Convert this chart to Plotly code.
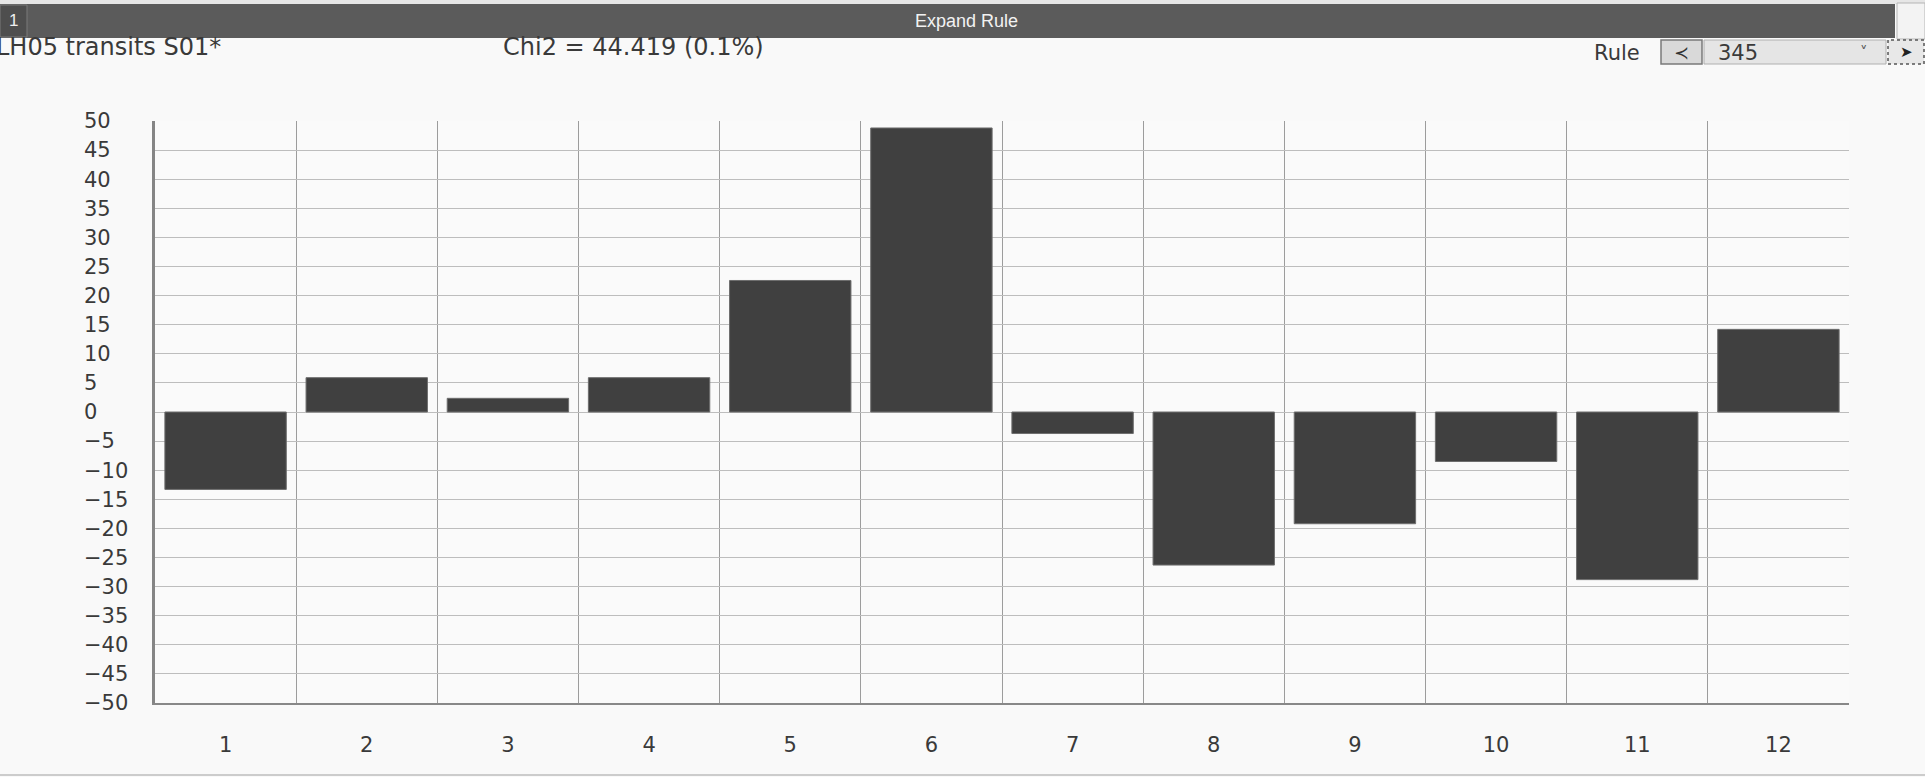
import plotly.graph_objects as go

# ---- data ----
categories = ["1", "2", "3", "4", "5", "6", "7", "8", "9", "10", "11", "12"]
positions = list(range(1, 13))
values = [-13.3, 5.9, 2.35, 5.9, 22.6, 48.8, -3.7, -26.3, -19.2, -8.5, -28.8, 14.2]
y_ticks = list(range(-50, 55, 5))
cat_bounds = [i + 0.5 for i in range(0, 13)]
header_tab = "1"
header_title = "Expand Rule"
left_label = "LH05 transits S01*"
chi_label = "Chi2 = 44.419 (0.1%)"
rule_label = "Rule"
rule_value = "345"

W, H = 1925, 777


def px(x):
    return x / W


def py(y):
    return 1 - y / H


CHART_FONT = "DejaVu Sans, Verdana, sans-serif"
TXT = "#3a3a3a"

fig = go.Figure()
fig.add_trace(go.Bar(
    x=positions, y=values, width=0.86,
    marker=dict(color="#404040", line=dict(color="#6e6e6e", width=1)),
    hoverinfo="x+y", showlegend=False,
))
# invisible helper trace so the left-aligned label axis is drawn
fig.add_trace(go.Scatter(
    x=positions, y=values, yaxis="y2", mode="markers",
    marker=dict(opacity=0), hoverinfo="skip", showlegend=False,
))

fig.update_layout(
    width=W, height=H,
    margin=dict(l=0, r=0, t=0, b=0, autoexpand=False),
    paper_bgcolor="#f9f9f9",
    plot_bgcolor="#fafafa",
    bargap=0.14,
    showlegend=False,
    xaxis=dict(
        domain=[px(155), px(1849)],
        range=[0.5, 12.5], automargin=False,
        tickmode="array", tickvals=positions, ticktext=categories,
        showgrid=False, zeroline=False,
        ticks="", ticklabelstandoff=22,
        tickfont=dict(family=CHART_FONT, size=21, color=TXT),
        showline=True, linecolor="#888888", linewidth=1.5,
        minor=dict(tickmode="array", tickvals=cat_bounds, showgrid=True,
                   gridcolor="#9c9c9c", gridwidth=1, ticks=""),
        fixedrange=True,
    ),
    yaxis=dict(
        domain=[py(703), py(121)],
        range=[-50, 50], automargin=False,
        tickmode="array", tickvals=y_ticks,
        showgrid=True, gridcolor="#bdbdbd", gridwidth=1.3,
        zeroline=False, showticklabels=False, ticks="",
        showline=True, linecolor="#858585", linewidth=2.5,
        fixedrange=True,
    ),
    yaxis2=dict(
        overlaying="y", anchor="free", position=px(80), side="left",
        range=[-50, 50], automargin=False,
        tickmode="array", tickvals=y_ticks,
        ticklabelposition="inside", ticklabeloverflow="allow", ticks="",
        showgrid=False, zeroline=False, showline=False,
        tickfont=dict(family=CHART_FONT, size=21, color=TXT),
        fixedrange=True,
    ),
)

shapes = []


def rect(x0, y0, x1, y1, fill, line="rgba(0,0,0,0)", width=1, dash="solid"):
    shapes.append(dict(type="rect", xref="paper", yref="paper",
                       x0=px(x0), x1=px(x1), y0=py(y1), y1=py(y0),
                       fillcolor=fill, line=dict(color=line, width=width, dash=dash),
                       layer="below"))


rect(0, 0, W, 4, "#e6e6e6")
rect(0, 4, 1895, 38, "#5b5b5b")
rect(0, 5, 27, 37, "#4e4e4e", "#7a7a7a", 1)
rect(1897, 3, 1925, 39, "#f3f3f3", "#b5b5b5", 1)
rect(1661, 40, 1702, 64, "#d9d9d9", "#7a7a7a", 1.5)
rect(1704, 40, 1886, 64, "#e5e5e5", "#b0b0b0", 1)
rect(1888, 40, 1924, 64, "#e8e8e8", "#555555", 1.5, "dot")
shapes.append(dict(type="line", xref="paper", yref="paper",
                   x0=0, x1=1, y0=py(775), y1=py(775),
                   line=dict(color="#cccccc", width=2)))
fig.update_layout(shapes=shapes)


def label(text, x, y, size, color, family=CHART_FONT, anchor="left"):
    fig.add_annotation(text=text, xref="paper", yref="paper",
                       x=px(x), y=py(y), xanchor=anchor, yanchor="middle",
                       showarrow=False,
                       font=dict(family=family, size=size, color=color))


label(header_tab, 13, 21, 17, "#eeeeee", "Liberation Sans, Arial, sans-serif", "center")
label(header_title, 967, 21, 18, "#f2f2f2", "Liberation Sans, Arial, sans-serif", "center")
label(left_label, -6, 47, 24, TXT)
label(chi_label, 501, 47, 24, TXT)
label(rule_label, 1592, 53, 21, TXT)
label("≺", 1681, 52, 18, "#333333", CHART_FONT, "center")
label(rule_value, 1716, 53, 21, TXT)
label("˅", 1864, 53, 15, "#555555", CHART_FONT, "center")
label("➤", 1906, 52, 15, "#222222", CHART_FONT, "center")

fig.write_html("out.html", config={"displayModeBar": False},
               post_script="document.body.style.margin='0';")
